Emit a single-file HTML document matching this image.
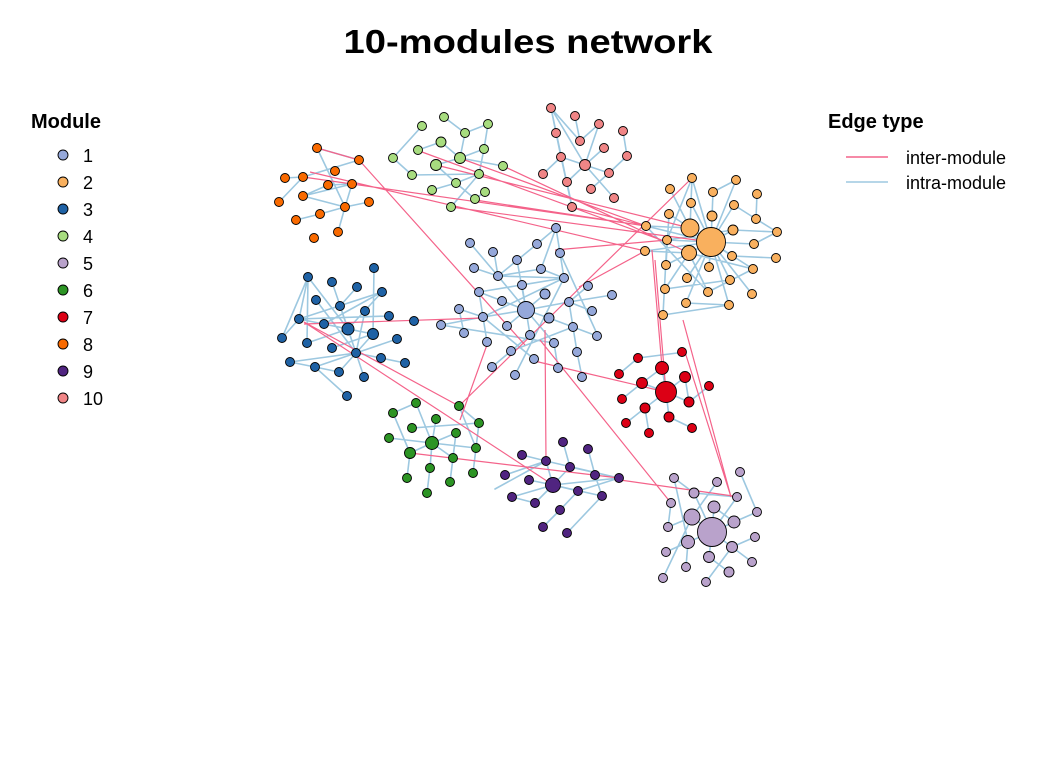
<!DOCTYPE html>
<html><head><meta charset="utf-8"><style>
html,body{margin:0;padding:0;background:#fff;}
svg{display:block;font-family:"Liberation Sans",Arial,sans-serif;}
</style></head><body>
<svg width="1056" height="768" viewBox="0 0 1056 768" xmlns="http://www.w3.org/2000/svg">
<rect width="1056" height="768" fill="#fff"/>
<text x="528" y="53" text-anchor="middle" font-size="33" font-weight="bold" textLength="369" lengthAdjust="spacingAndGlyphs">10-modules network</text>

<!-- intra-module edges -->
<g stroke="#9DC8E0" stroke-width="1.6" fill="none" stroke-linecap="round">
<!-- module 8 -->
<path d="M317,148L359,160M317,148L345,207M303,177L359,160M285,178L303,177M303,196L328,185M303,196L352,184M328,185L352,184M352,184L345,207M345,207L369,202M279,202L303,177M296,220L320,214M320,214L345,207M338,232L345,207M303,196L345,207"/>
<!-- module 4 -->
<path d="M422,126L393,158M444,117L465,133M465,133L488,124M465,133L460,158M441,142L460,158M484,149L488,124M484,149L460,158M460,158L436,165M460,158L503,166M393,158L412,175M412,175L479,174M436,165L456,183M479,174L456,183M479,174L484,149M456,183L475,199M485,192L475,199M451,207L479,174M432,190L456,183M418,150L441,142"/>
<!-- module 10 -->
<path d="M551,108L556,133M551,108L580,141M551,108L572,207M551,108L585,165M575,116L580,141M599,124L580,141M599,124L585,165M556,133L561,157M561,157L585,165M585,165L604,148M585,165L609,173M585,165L567,182M585,165L614,198M609,173L627,156M623,131L627,156M543,174L561,157M567,182L572,207M591,189L609,173M561,157L572,207"/>
<!-- module 2 -->
<path d="M692,178L690,228M692,178L711,242M692,178L667,240M736,180L711,242M670,189L690,228M713,192L711,242M757,194L756,219M691,203L711,242M734,205L711,242M669,214L690,228M712,216L711,242M756,219L777,232M646,226L690,228M646,226L711,242M690,228L711,242M733,230L711,242M777,232L733,230M667,240L711,242M689,253L711,242M754,244L711,242M645,251L689,253M645,251L711,242M732,256L711,242M776,258L732,256M666,265L711,242M709,267L711,242M753,269L711,242M687,278L711,242M730,280L711,242M665,289L689,253M708,292L689,253M752,294L711,242M686,303L711,242M729,305L711,242M663,315L667,240M663,315L729,305M686,303L729,305M665,289L730,280M708,292L753,269M667,240L733,230M689,253L753,269M669,214L666,265M646,226L708,292M754,244L777,232M734,205L756,219M713,192L736,180"/>
<!-- module 1 -->
<path d="M556,228L537,244M556,228L541,269M556,228L564,278M470,243L498,276M494,252L498,276M537,244L498,276M517,260L526,310M474,268L498,276M498,276L564,278M498,276L541,269M541,269L564,278M498,276L526,310M479,292L526,310M502,301L526,310M459,309L483,317M441,325L483,317M464,333L459,309M483,317L526,310M487,342L479,292M526,310L549,318M526,310L569,302M526,310L545,294M526,310L522,285M526,310L507,326M526,310L530,335M526,310L554,343M549,318L573,327M573,327L597,336M569,302L612,295M588,286L569,302M592,311L569,302M511,351L573,327M492,367L530,335M515,375L564,278M534,359L483,317M558,368L554,343M577,352L569,302M582,377L577,352M560,253L564,278M560,253L598,336M498,276L537,244M441,325L554,343M522,285L564,278M479,292L564,278M483,317L564,278"/>
<!-- module 3 -->
<path d="M308,277L299,319M308,277L348,329M308,277L282,338M308,277L307,343M332,282L348,329M357,287L340,306M374,268L373,334M382,292L299,319M382,292L348,329M316,300L356,353M340,306L356,353M365,311L356,353M389,316L299,319M299,319L348,329M324,324L373,334M348,329L373,334M348,329L356,353M373,334L356,353M397,339L356,353M282,338L299,319M307,343L348,329M290,362L356,353M290,362L315,367M315,367L339,372M315,367L356,353M339,372L356,353M364,377L356,353M381,358L405,363M381,358L356,353M347,396L315,367M332,348L373,334M324,324L382,292"/>
<!-- module 6 -->
<path d="M416,403L393,413M416,403L432,443M393,413L410,453M436,419L432,443M459,406L479,423M412,428L479,423M456,433L432,443M389,438L432,443M432,443L476,448M432,443L410,453M432,443L453,458M432,443L430,468M476,448L479,423M476,448L473,473M410,453L407,478M453,458L450,482M430,468L427,493M459,406L476,448M456,433L450,482"/>
<!-- module 7 -->
<path d="M638,358L685,352M619,374L638,358M662,368L666,392M642,383L666,392M685,377L666,392M685,377L689,402M666,392L689,402M642,383L622,399M666,392L645,408M666,392L669,417M645,408L626,423M669,417L692,428M645,408L649,433M689,402L709,386M662,368L642,383"/>
<!-- module 9 -->
<path d="M563,442L570,467M588,449L595,475M522,455L546,461M546,461L619,478M546,461L553,485M570,467L553,485M570,467L619,478M595,475L602,496M529,480L553,485M553,485L578,491M553,485L602,496M553,485L619,478M578,491L619,478M512,497L553,485M535,503L553,485M560,510L578,491M543,527L560,510M567,533L602,496M495,489L546,461M505,475L546,461M512,497L535,503"/>
<!-- module 5 -->
<path d="M674,478L688,542M740,472L757,512M717,482L692,517M694,493L712,532M737,497L712,532M671,503L668,527M714,507L712,532M692,517L712,532M692,517L668,527M757,512L734,522M734,522L712,532M755,537L732,547M688,542L712,532M732,547L712,532M666,552L688,542M709,557L712,532M752,562L732,547M686,567L688,542M729,572L709,557M663,578L692,517M706,582L732,547M694,493L737,497M714,507L734,522M674,478L694,493"/>
</g>

<!-- inter-module edges -->
<g stroke="#F4638A" stroke-width="1.2" fill="none">
<path d="M317,148L359,160M359,160L525,345M303,177L646,226M310,172L645,251M422,152L664,241M436,165L690,228M465,160L646,226M475,200L646,226M503,166L689,253M555,250L667,240M451,207L711,242M572,207L646,226M459,406L692,178M652,250L662,367M655,260L666,392M683,320L731,497M304,322L459,406M304,322L553,485M304,324L483,318M410,453L619,478M620,480L733,496M545,330L546,461M530,360L666,392M540,340L671,503M685,352L731,497M488,342L460,420M579,287L645,251"/>
</g>

<!-- nodes -->
<g stroke="#000" stroke-width="0.9">
<g fill="#F96A00">
<circle cx="317" cy="148" r="4.5"/><circle cx="359" cy="160" r="4.5"/><circle cx="335" cy="171" r="4.5"/><circle cx="303" cy="177" r="4.5"/><circle cx="285" cy="178" r="4.5"/><circle cx="328" cy="185" r="4.5"/><circle cx="352" cy="184" r="4.5"/><circle cx="303" cy="196" r="4.5"/><circle cx="279" cy="202" r="4.5"/><circle cx="345" cy="207" r="4.5"/><circle cx="369" cy="202" r="4.5"/><circle cx="320" cy="214" r="4.5"/><circle cx="296" cy="220" r="4.5"/><circle cx="338" cy="232" r="4.5"/><circle cx="314" cy="238" r="4.5"/>
</g>
<g fill="#A7DC7F">
<circle cx="422" cy="126" r="4.5"/><circle cx="444" cy="117" r="4.5"/><circle cx="488" cy="124" r="4.5"/><circle cx="465" cy="133" r="4.5"/><circle cx="441" cy="142" r="5"/><circle cx="484" cy="149" r="4.5"/><circle cx="418" cy="150" r="4.5"/><circle cx="393" cy="158" r="4.5"/><circle cx="460" cy="158" r="5.5"/><circle cx="436" cy="165" r="5.5"/><circle cx="503" cy="166" r="4.5"/><circle cx="479" cy="174" r="4.5"/><circle cx="412" cy="175" r="4.5"/><circle cx="456" cy="183" r="4.5"/><circle cx="432" cy="190" r="4.5"/><circle cx="485" cy="192" r="4.5"/><circle cx="475" cy="199" r="4.5"/><circle cx="451" cy="207" r="4.5"/>
</g>
<g fill="#F08586">
<circle cx="551" cy="108" r="4.5"/><circle cx="575" cy="116" r="4.5"/><circle cx="599" cy="124" r="4.5"/><circle cx="556" cy="133" r="4.5"/><circle cx="580" cy="141" r="4.5"/><circle cx="623" cy="131" r="4.5"/><circle cx="604" cy="148" r="4.5"/><circle cx="561" cy="157" r="4.5"/><circle cx="585" cy="165" r="5.5"/><circle cx="627" cy="156" r="4.5"/><circle cx="609" cy="173" r="4.5"/><circle cx="567" cy="182" r="4.5"/><circle cx="591" cy="189" r="4.5"/><circle cx="614" cy="198" r="4.5"/><circle cx="543" cy="174" r="4.5"/><circle cx="572" cy="207" r="4.5"/>
</g>
<g fill="#F9B05E">
<circle cx="692" cy="178" r="4.5"/><circle cx="736" cy="180" r="4.5"/><circle cx="670" cy="189" r="4.5"/><circle cx="713" cy="192" r="4.5"/><circle cx="757" cy="194" r="4.5"/><circle cx="691" cy="203" r="4.5"/><circle cx="734" cy="205" r="4.5"/><circle cx="669" cy="214" r="4.5"/><circle cx="712" cy="216" r="5"/><circle cx="756" cy="219" r="4.5"/><circle cx="646" cy="226" r="4.5"/><circle cx="690" cy="228" r="9"/><circle cx="733" cy="230" r="5"/><circle cx="777" cy="232" r="4.5"/><circle cx="667" cy="240" r="4.5"/><circle cx="711" cy="242" r="14.5"/><circle cx="689" cy="253" r="7.5"/><circle cx="754" cy="244" r="4.5"/><circle cx="645" cy="251" r="4.5"/><circle cx="732" cy="256" r="4.5"/><circle cx="776" cy="258" r="4.5"/><circle cx="666" cy="265" r="4.5"/><circle cx="709" cy="267" r="4.5"/><circle cx="753" cy="269" r="4.5"/><circle cx="687" cy="278" r="4.5"/><circle cx="730" cy="280" r="4.5"/><circle cx="665" cy="289" r="4.5"/><circle cx="708" cy="292" r="4.5"/><circle cx="752" cy="294" r="4.5"/><circle cx="686" cy="303" r="4.5"/><circle cx="729" cy="305" r="4.5"/><circle cx="663" cy="315" r="4.5"/>
</g>
<g fill="#95A8DA">
<circle cx="556" cy="228" r="4.5"/><circle cx="470" cy="243" r="4.5"/><circle cx="493" cy="252" r="4.5"/><circle cx="537" cy="244" r="4.5"/><circle cx="560" cy="253" r="4.5"/><circle cx="517" cy="260" r="4.5"/><circle cx="474" cy="268" r="4.5"/><circle cx="498" cy="276" r="4.5"/><circle cx="541" cy="269" r="4.5"/><circle cx="564" cy="278" r="4.5"/><circle cx="522" cy="285" r="4.5"/><circle cx="479" cy="292" r="4.5"/><circle cx="545" cy="294" r="5"/><circle cx="588" cy="286" r="4.5"/><circle cx="612" cy="295" r="4.5"/><circle cx="569" cy="302" r="4.5"/><circle cx="502" cy="301" r="4.5"/><circle cx="526" cy="310" r="8.5"/><circle cx="459" cy="309" r="4.5"/><circle cx="483" cy="317" r="4.5"/><circle cx="549" cy="318" r="5"/><circle cx="592" cy="311" r="4.5"/><circle cx="441" cy="325" r="4.5"/><circle cx="507" cy="326" r="4.5"/><circle cx="573" cy="327" r="4.5"/><circle cx="464" cy="333" r="4.5"/><circle cx="530" cy="335" r="4.5"/><circle cx="597" cy="336" r="4.5"/><circle cx="487" cy="342" r="4.5"/><circle cx="554" cy="343" r="4.5"/><circle cx="511" cy="351" r="4.5"/><circle cx="577" cy="352" r="4.5"/><circle cx="534" cy="359" r="4.5"/><circle cx="492" cy="367" r="4.5"/><circle cx="558" cy="368" r="4.5"/><circle cx="515" cy="375" r="4.5"/><circle cx="582" cy="377" r="4.5"/>
</g>
<g fill="#1F62A5">
<circle cx="374" cy="268" r="4.5"/><circle cx="308" cy="277" r="4.5"/><circle cx="332" cy="282" r="4.5"/><circle cx="357" cy="287" r="4.5"/><circle cx="382" cy="292" r="4.5"/><circle cx="316" cy="300" r="4.5"/><circle cx="340" cy="306" r="4.5"/><circle cx="365" cy="311" r="4.5"/><circle cx="389" cy="316" r="4.5"/><circle cx="299" cy="319" r="4.5"/><circle cx="324" cy="324" r="4.5"/><circle cx="348" cy="329" r="6"/><circle cx="373" cy="334" r="5.5"/><circle cx="414" cy="321" r="4.5"/><circle cx="282" cy="338" r="4.5"/><circle cx="307" cy="343" r="4.5"/><circle cx="332" cy="348" r="4.5"/><circle cx="356" cy="353" r="4.5"/><circle cx="397" cy="339" r="4.5"/><circle cx="381" cy="358" r="4.5"/><circle cx="405" cy="363" r="4.5"/><circle cx="290" cy="362" r="4.5"/><circle cx="315" cy="367" r="4.5"/><circle cx="339" cy="372" r="4.5"/><circle cx="364" cy="377" r="4.5"/><circle cx="347" cy="396" r="4.5"/>
</g>
<g fill="#2C9424">
<circle cx="416" cy="403" r="4.5"/><circle cx="393" cy="413" r="4.5"/><circle cx="436" cy="419" r="4.5"/><circle cx="459" cy="406" r="4.5"/><circle cx="412" cy="428" r="4.5"/><circle cx="479" cy="423" r="4.5"/><circle cx="389" cy="438" r="4.5"/><circle cx="432" cy="443" r="6.5"/><circle cx="456" cy="433" r="4.5"/><circle cx="410" cy="453" r="5.5"/><circle cx="476" cy="448" r="4.5"/><circle cx="453" cy="458" r="4.5"/><circle cx="430" cy="468" r="4.5"/><circle cx="407" cy="478" r="4.5"/><circle cx="450" cy="482" r="4.5"/><circle cx="473" cy="473" r="4.5"/><circle cx="427" cy="493" r="4.5"/>
</g>
<g fill="#DC0015">
<circle cx="638" cy="358" r="4.5"/><circle cx="682" cy="352" r="4.5"/><circle cx="619" cy="374" r="4.5"/><circle cx="662" cy="368" r="6.5"/><circle cx="642" cy="383" r="5.5"/><circle cx="685" cy="377" r="5.5"/><circle cx="666" cy="392" r="10.5"/><circle cx="622" cy="399" r="4.5"/><circle cx="689" cy="402" r="5"/><circle cx="709" cy="386" r="4.5"/><circle cx="645" cy="408" r="5"/><circle cx="669" cy="417" r="5"/><circle cx="626" cy="423" r="4.5"/><circle cx="692" cy="428" r="4.5"/><circle cx="649" cy="433" r="4.5"/>
</g>
<g fill="#502480">
<circle cx="563" cy="442" r="4.5"/><circle cx="588" cy="449" r="4.5"/><circle cx="522" cy="455" r="4.5"/><circle cx="546" cy="461" r="4.5"/><circle cx="570" cy="467" r="4.5"/><circle cx="595" cy="475" r="4.5"/><circle cx="619" cy="478" r="4.5"/><circle cx="505" cy="475" r="4.5"/><circle cx="529" cy="480" r="4.5"/><circle cx="553" cy="485" r="7.5"/><circle cx="578" cy="491" r="4.5"/><circle cx="602" cy="496" r="4.5"/><circle cx="512" cy="497" r="4.5"/><circle cx="535" cy="503" r="4.5"/><circle cx="560" cy="510" r="4.5"/><circle cx="543" cy="527" r="4.5"/><circle cx="567" cy="533" r="4.5"/>
</g>
<g fill="#B9A2CB">
<circle cx="674" cy="478" r="4.5"/><circle cx="740" cy="472" r="4.5"/><circle cx="717" cy="482" r="4.5"/><circle cx="694" cy="493" r="5"/><circle cx="737" cy="497" r="4.5"/><circle cx="671" cy="503" r="4.5"/><circle cx="714" cy="507" r="6"/><circle cx="692" cy="517" r="8"/><circle cx="757" cy="512" r="4.5"/><circle cx="712" cy="532" r="14.5"/><circle cx="668" cy="527" r="4.5"/><circle cx="734" cy="522" r="6"/><circle cx="688" cy="542" r="6.5"/><circle cx="755" cy="537" r="4.5"/><circle cx="732" cy="547" r="5.5"/><circle cx="666" cy="552" r="4.5"/><circle cx="709" cy="557" r="5.5"/><circle cx="752" cy="562" r="4.5"/><circle cx="686" cy="567" r="4.5"/><circle cx="729" cy="572" r="5"/><circle cx="663" cy="578" r="4.5"/><circle cx="706" cy="582" r="4.5"/>
</g>
</g>

<!-- Module legend -->
<text x="31" y="128" font-size="20" font-weight="bold">Module</text>
<g stroke="#000" stroke-width="0.9">
<circle cx="63" cy="155" r="5" fill="#95A8DA"/>
<circle cx="63" cy="182" r="5" fill="#F9B05E"/>
<circle cx="63" cy="209" r="5" fill="#1F62A5"/>
<circle cx="63" cy="236" r="5" fill="#A7DC7F"/>
<circle cx="63" cy="263" r="5" fill="#B9A2CB"/>
<circle cx="63" cy="290" r="5" fill="#2C9424"/>
<circle cx="63" cy="317" r="5" fill="#DC0015"/>
<circle cx="63" cy="344" r="5" fill="#F96A00"/>
<circle cx="63" cy="371" r="5" fill="#502480"/>
<circle cx="63" cy="398" r="5" fill="#F08586"/>
</g>
<g font-size="18">
<text x="83" y="162">1</text><text x="83" y="189">2</text><text x="83" y="216">3</text><text x="83" y="243">4</text><text x="83" y="270">5</text><text x="83" y="297">6</text><text x="83" y="324">7</text><text x="83" y="351">8</text><text x="83" y="378">9</text><text x="83" y="405">10</text>
</g>

<!-- Edge legend -->
<text x="828" y="128" font-size="20" font-weight="bold">Edge type</text>
<line x1="846" y1="157" x2="888" y2="157" stroke="#F4638A" stroke-width="1.5"/>
<line x1="846" y1="182" x2="888" y2="182" stroke="#9DC8E0" stroke-width="1.5"/>
<text x="906" y="164" font-size="18">inter-module</text>
<text x="906" y="189" font-size="18">intra-module</text>
</svg>
</body></html>
